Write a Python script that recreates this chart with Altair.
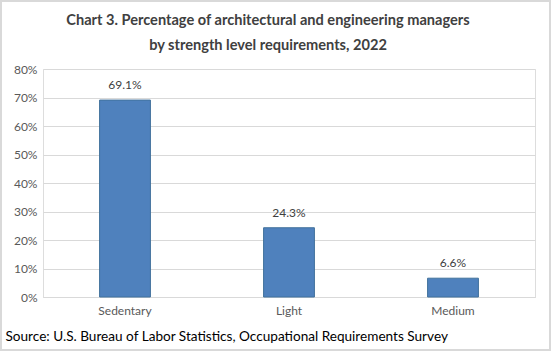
import altair as alt
import pandas as pd

categories = ["Sedentary", "Light", "Medium"]
values = [69.1, 24.3, 6.6]
labels = ["69.1%", "24.3%", "6.6%"]
y_ticks = [0, 10, 20, 30, 40, 50, 60, 70, 80]

df = pd.DataFrame({"cat": categories, "val": values, "lab": labels})

FONT = "Lato"

x_enc = alt.X("cat:N", sort=categories,
              scale=alt.Scale(paddingInner=0.69, paddingOuter=0.345),
              axis=alt.Axis(title="Source: U.S. Bureau of Labor Statistics, Occupational Requirements Survey",
                            titleFont=FONT, titleFontSize=13.6, titleFontWeight="normal",
                            titleColor="#000000", titleX=-38, titleY=39,
                            titleAlign="left", titleBaseline="middle", titleAnchor="start",
                            labelAngle=0, labelFont=FONT, labelFontSize=12, labelColor="#595959",
                            labelPadding=8, ticks=False, domainColor="#d9d9d9", domainWidth=1))
y_enc = alt.Y("val:Q", scale=alt.Scale(domain=[0, 80]),
              axis=alt.Axis(title=None, values=y_ticks, labelOverlap=False,
                            labelExpr="datum.value + '%'", labelFont=FONT, labelFontSize=12,
                            labelColor="#595959", labelPadding=6, ticks=False, domain=False,
                            gridColor="#d9d9d9", gridWidth=1))

base = alt.Chart(df)

bars = base.mark_bar(color="#4f81bd", stroke="#41719c", strokeWidth=1).encode(x=x_enc, y=y_enc)

text = base.mark_text(dy=-8, font=FONT, fontSize=12, color="#404040", baseline="bottom").encode(
    x=x_enc, y=y_enc, text="lab:N",
)

frame = base.mark_rect(fill=None, stroke="#d9d9d9", strokeWidth=2).encode(
    x=alt.value(-42), x2=alt.value(507), y=alt.value(-68), y2=alt.value(281)
)

chart = alt.layer(bars, text, frame).properties(
    width=492, height=228,
    padding={"left": 43, "top": 69, "right": 16, "bottom": 54},
    autosize=alt.AutoSizeParams(type="none"),
    title=alt.TitleParams(
        text=["Chart 3. Percentage of architectural and engineering managers",
              "by strength level requirements, 2022"],
        font=FONT, fontSize=14.6, fontWeight="bold", color="#404040",
        anchor="middle", dx=-21, offset=-53, lineHeight=25),
).configure_view(stroke=None).configure(background="white")

chart.save("out.html", embed_options={"renderer": "svg", "actions": False})
